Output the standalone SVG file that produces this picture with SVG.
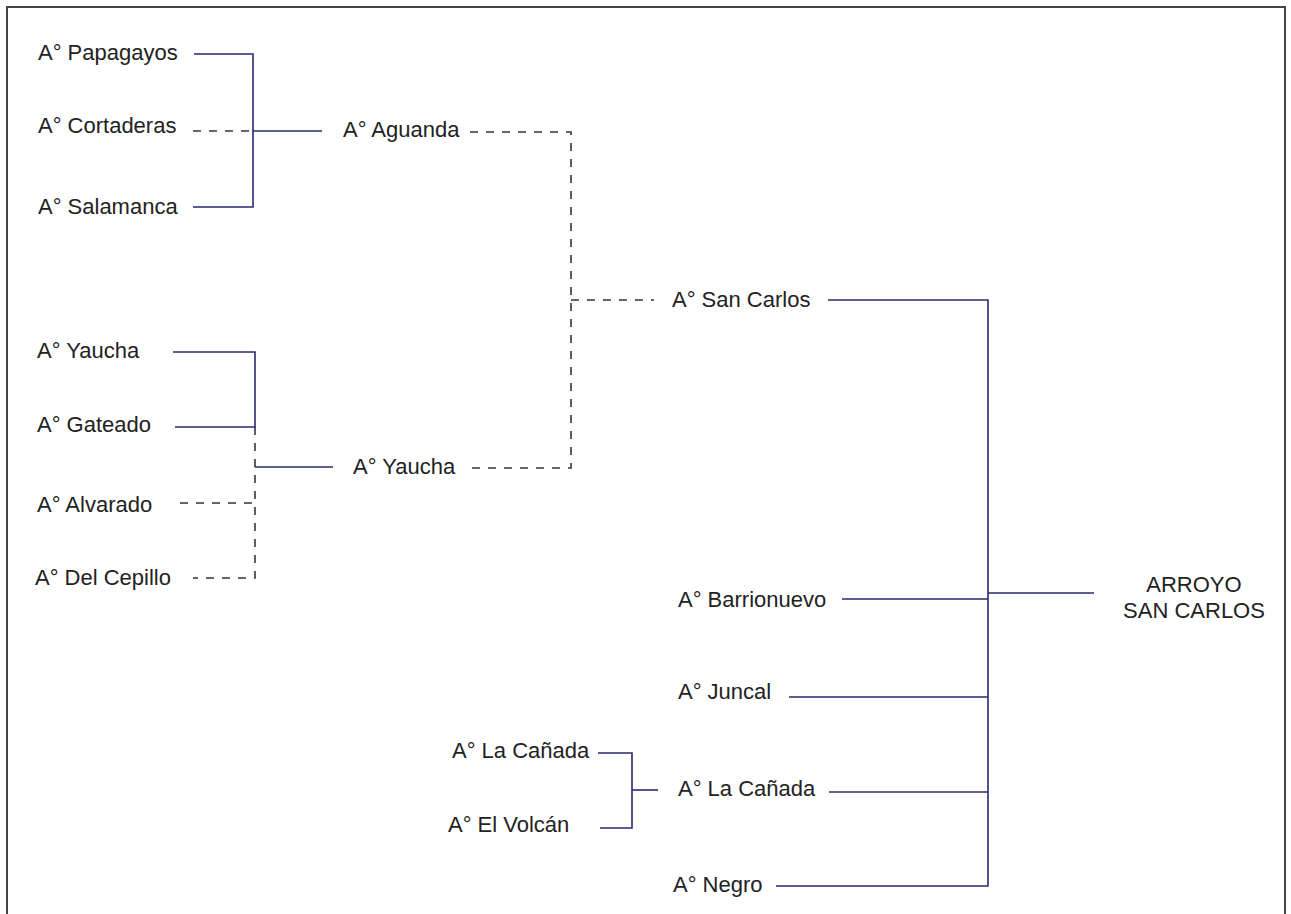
<svg xmlns="http://www.w3.org/2000/svg" width="1291" height="914" viewBox="0 0 1291 914">
<style>
text{font-family:"Liberation Sans",Arial,sans-serif;font-size:22px;fill:#222}
.s{stroke:#2a2a70;stroke-width:1.6;fill:none}
.d{stroke:#333344;stroke-width:1.6;fill:none;stroke-dasharray:8 8}
</style>
<rect x="0" y="0" width="1291" height="914" fill="#fff"/>
<rect x="7" y="7" width="1278" height="940" fill="none" stroke="#444" stroke-width="2"/>
<g id="connectors">
<path class="s" d="M194 54H253V207H193"/>
<path class="d" d="M193 131H253"/>
<path class="s" d="M253 131H322"/>
<path class="d" d="M470 132H571V468H470"/>
<path class="d" d="M571 300H654"/>
<path class="s" d="M828 300H988V886H776"/>
<path class="s" d="M173 352H255V427H175"/>
<path class="d" d="M255 427V578H193"/>
<path class="s" d="M255 467H333"/>
<path class="d" d="M180 503H255"/>
<path class="s" d="M842 599H988"/>
<path class="s" d="M988 593H1094"/>
<path class="s" d="M789 697H988"/>
<path class="s" d="M829 792H988"/>
<path class="s" d="M598 753H632V828H600"/>
<path class="s" d="M632 790H658"/>
</g>
<g id="n-papagayos"><text x="38" y="60">A° Papagayos</text></g>
<g id="n-cortaderas"><text x="38" y="133">A° Cortaderas</text></g>
<g id="n-salamanca"><text x="38" y="214">A° Salamanca</text></g>
<g id="n-aguanda"><text x="343" y="137">A° Aguanda</text></g>
<g id="n-sancarlos"><text x="672" y="307">A° San Carlos</text></g>
<g id="n-yaucha1"><text x="37" y="358">A° Yaucha</text></g>
<g id="n-gateado"><text x="37" y="432">A° Gateado</text></g>
<g id="n-yaucha2"><text x="353" y="474">A° Yaucha</text></g>
<g id="n-alvarado"><text x="37" y="512">A° Alvarado</text></g>
<g id="n-delcepillo"><text x="35" y="585">A° Del Cepillo</text></g>
<g id="n-barrionuevo"><text x="678" y="607">A° Barrionuevo</text></g>
<g id="n-arroyo"><text x="1194" y="592" text-anchor="middle">ARROYO</text><text x="1194" y="618" text-anchor="middle">SAN CARLOS</text></g>
<g id="n-juncal"><text x="678" y="699">A° Juncal</text></g>
<g id="n-lacanada1"><text x="452" y="758">A° La Cañada</text></g>
<g id="n-elvolcan"><text x="448" y="832">A° El Volcán</text></g>
<g id="n-lacanada2"><text x="678" y="796">A° La Cañada</text></g>
<g id="n-negro"><text x="673" y="892">A° Negro</text></g>
</svg>
